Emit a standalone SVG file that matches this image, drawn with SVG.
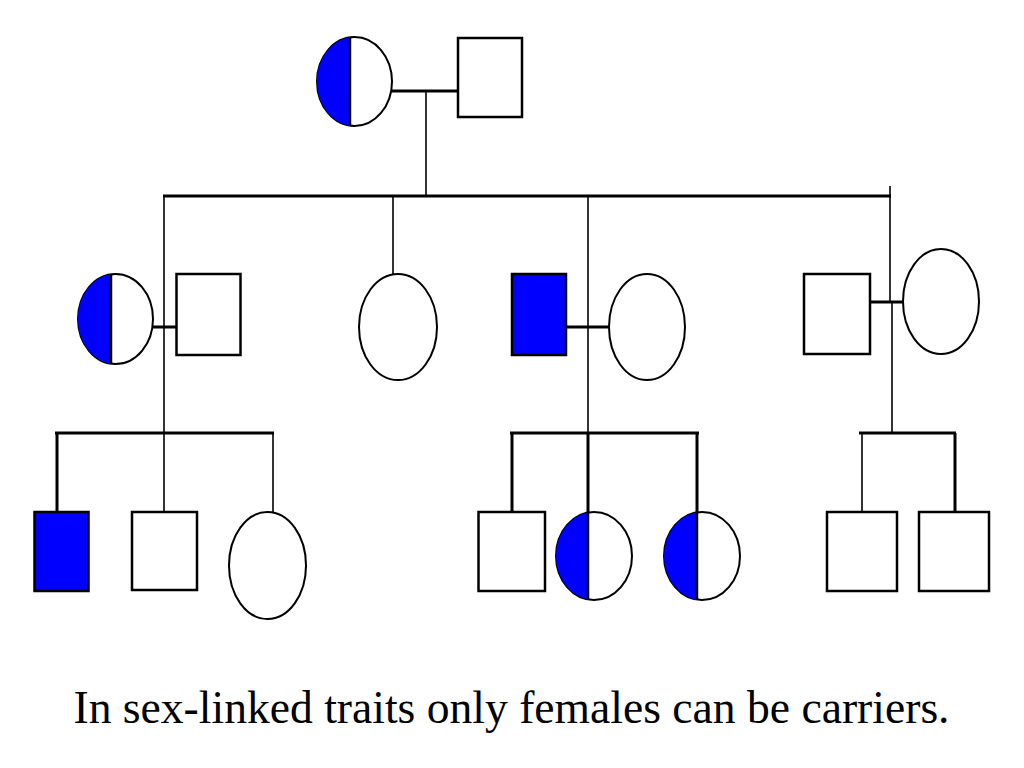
<svg xmlns="http://www.w3.org/2000/svg" width="1024" height="768" viewBox="0 0 1024 768">
<style>
.sq{fill:#fff;stroke:#000;stroke-width:2.5}
.aff{fill:#0000ff;stroke:#000;stroke-width:2.5}
.fem{fill:#fff;stroke:#000;stroke-width:2}
.half{fill:#0000ff;stroke:none}
.div{stroke:#000;stroke-width:2.5}
.thick{stroke:#000;stroke-width:3;fill:none}
.thin{stroke:#000;stroke-width:1.6;fill:none}
</style>
<rect width="1024" height="768" fill="#fff"/>
<g id="connectors">
  <line class="thick" x1="392" y1="91" x2="458" y2="91"/>
  <line class="thin" x1="426" y1="91" x2="426" y2="196"/>
  <line class="thick" x1="163" y1="196" x2="891" y2="196"/>
  <line class="thin" x1="164" y1="196" x2="164" y2="432"/>
  <line class="thin" x1="393" y1="196" x2="393" y2="274"/>
  <line class="thin" x1="588" y1="196" x2="588" y2="327"/>
  <line class="thin" x1="890" y1="186" x2="890" y2="302"/>
  <line class="thick" x1="153" y1="327" x2="176" y2="327"/>
  <line class="thick" x1="566" y1="327" x2="609" y2="327"/>
  <line class="thick" x1="870" y1="302" x2="903" y2="302"/>
  <line class="thin" x1="588" y1="327" x2="588" y2="432"/>
  <line class="thin" x1="892" y1="302" x2="892" y2="432"/>
  <line class="thick" x1="55" y1="433" x2="274" y2="433"/>
  <line class="thick" x1="57" y1="433" x2="57" y2="512"/>
  <line class="thin" x1="164" y1="432" x2="164" y2="512"/>
  <line class="thin" x1="273" y1="433" x2="273" y2="512"/>
  <line class="thick" x1="510" y1="433" x2="699" y2="433"/>
  <line class="thick" x1="512" y1="433" x2="512" y2="512"/>
  <line class="thick" x1="588" y1="432" x2="588" y2="512"/>
  <line class="thick" x1="697" y1="433" x2="697" y2="512"/>
  <line class="thick" x1="859" y1="433" x2="956" y2="433"/>
  <line class="thin" x1="862" y1="433" x2="862" y2="512"/>
  <line class="thick" x1="955" y1="433" x2="955" y2="512"/>
</g>
<g id="gen1-mother">
  <ellipse class="fem" cx="354.5" cy="81.5" rx="37.5" ry="44.5"/>
  <path class="half" d="M350,37.3 A37.5,44.5 0 0 0 350,125.7 Z"/>
  <line class="div" x1="350" y1="37.3" x2="350" y2="125.7"/>
</g>
<g id="gen1-father">
  <rect class="sq" x="458" y="38" width="64" height="79"/>
</g>
<g id="gen2-carrier">
  <ellipse class="fem" cx="115.5" cy="319" rx="37.5" ry="45"/>
  <path class="half" d="M111,274.3 A37.5,45 0 0 0 111,363.7 Z"/>
  <line class="div" x1="111" y1="274.3" x2="111" y2="363.7"/>
</g>
<g id="gen2-husband1">
  <rect class="sq" x="176.5" y="274" width="64" height="81"/>
</g>
<g id="gen2-daughter">
  <ellipse class="fem" cx="398" cy="327" rx="39" ry="53"/>
</g>
<g id="gen2-affected-son">
  <rect class="aff" x="512" y="274" width="54" height="81"/>
</g>
<g id="gen2-wife">
  <ellipse class="fem" cx="647" cy="327" rx="38" ry="53"/>
</g>
<g id="gen2-son">
  <rect class="sq" x="804" y="274" width="66" height="80"/>
</g>
<g id="gen2-wife2">
  <ellipse class="fem" cx="941" cy="301.5" rx="38" ry="52.5"/>
</g>
<g id="gen3-affected-son">
  <rect class="aff" x="34.5" y="512" width="54" height="79"/>
</g>
<g id="gen3-son1">
  <rect class="sq" x="132" y="512" width="65" height="78"/>
</g>
<g id="gen3-daughter1">
  <ellipse class="fem" cx="267.5" cy="565.5" rx="38.5" ry="53.5"/>
</g>
<g id="gen3-son2">
  <rect class="sq" x="478.5" y="512" width="66.5" height="79"/>
</g>
<g id="gen3-carrier1">
  <ellipse class="fem" cx="594" cy="556" rx="38" ry="44"/>
  <path class="half" d="M588,512.55 A38,44 0 0 0 588,599.45 Z"/>
  <line class="div" x1="588" y1="512.55" x2="588" y2="599.45"/>
</g>
<g id="gen3-carrier2">
  <ellipse class="fem" cx="702" cy="556" rx="38" ry="44"/>
  <path class="half" d="M697,512.38 A38,44 0 0 0 697,599.62 Z"/>
  <line class="div" x1="697" y1="512.38" x2="697" y2="599.62"/>
</g>
<g id="gen3-son3">
  <rect class="sq" x="827" y="512" width="70" height="79"/>
</g>
<g id="gen3-son4">
  <rect class="sq" x="919" y="512" width="70" height="79"/>
</g>
<text x="511.5" y="723" text-anchor="middle" font-family="'Liberation Serif', 'Times New Roman', serif" font-size="45.6" fill="#000">In sex-linked traits only females can be carriers.</text>
</svg>
